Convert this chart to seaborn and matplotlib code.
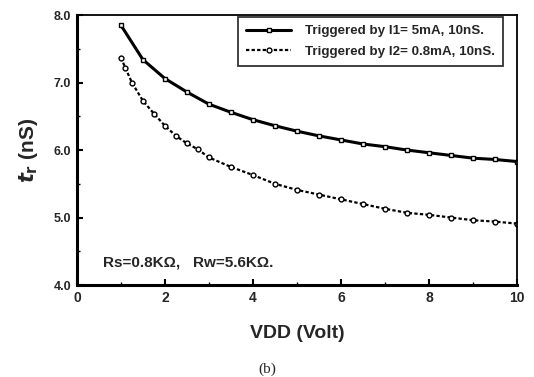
import matplotlib
matplotlib.use("Agg")
import matplotlib.pyplot as plt
import seaborn as sns
import pandas as pd

x1 = [1, 1.5, 2, 2.5, 3, 3.5, 4, 4.5, 5, 5.5, 6, 6.5, 7, 7.5, 8, 8.5, 9, 9.5, 10]
y1 = [7.85, 7.34, 7.06, 6.86, 6.68, 6.56, 6.45, 6.36, 6.28, 6.21, 6.15, 6.09, 6.05, 6.00, 5.96, 5.92, 5.88, 5.86, 5.83]
x2 = [1, 1.1, 1.25, 1.5, 1.75, 2, 2.25, 2.5, 2.75, 3, 3.5, 4, 4.5, 5, 5.5, 6, 6.5, 7, 7.5, 8, 8.5, 9, 9.5, 10]
y2 = [7.37, 7.22, 7.00, 6.73, 6.54, 6.36, 6.21, 6.10, 6.01, 5.89, 5.75, 5.63, 5.50, 5.41, 5.34, 5.27, 5.20, 5.13, 5.07, 5.04, 5.00, 4.96, 4.94, 4.91]
label1 = "Triggered by I1= 5mA, 10nS."
label2 = "Triggered by I2= 0.8mA, 10nS."
xticks = [0, 2, 4, 6, 8, 10]
yticks = [4.0, 5.0, 6.0, 7.0, 8.0]

sns.set_theme(style="white")
plt.rcParams['font.family'] = ['Liberation Sans', 'DejaVu Sans']
plt.rcParams['font.weight'] = 'bold'

fig = plt.figure(figsize=(5.34, 3.77), dpi=100)
ax = fig.add_axes([0.144, 0.244, 0.824, 0.716])

df1 = pd.DataFrame({"x": x1, "y": y1})
df2 = pd.DataFrame({"x": x2, "y": y2})
sns.lineplot(data=df1, x="x", y="y", ax=ax, color="black", lw=2.2,
             marker="s", markersize=3.5, markerfacecolor="white",
             markeredgecolor="black", markeredgewidth=1, label=label1)
sns.lineplot(data=df2, x="x", y="y", ax=ax, color="black", lw=1.6,
             linestyle=(0, (1.5, 1)), marker="o", markersize=3.5,
             markerfacecolor="white", markeredgecolor="black",
             markeredgewidth=1, label=label2)

ax.set_xlim(0, 10)
ax.set_ylim(4.0, 8.0)
ax.set_xticks(xticks)
ax.set_xticklabels([str(t) for t in xticks], fontsize=10, fontweight='bold')
ax.set_yticks(yticks)
ax.set_yticklabels([f"{t:.1f}" for t in yticks], fontsize=9, fontweight='bold')
ax.set_xticks([1, 3, 5, 7, 9], minor=True)
ax.set_yticks([4.5, 5.5, 6.5, 7.5], minor=True)
ax.tick_params(which='major', direction='in', length=4, width=1.5, color='black', pad=4, bottom=True, left=True)
ax.tick_params(which='minor', direction='in', length=2, width=1, color='black', bottom=True, left=True)

for s in ['left', 'bottom']:
    ax.spines[s].set_linewidth(2.2)
for s in ['top', 'right']:
    ax.spines[s].set_linewidth(1.3)
for s in ax.spines.values():
    s.set_color('black')

ax.set_xlabel("VDD (Volt)", fontsize=14, fontweight='bold', labelpad=15)
ax.set_ylabel(r"$\mathit{t}_{\mathbf{r}}$ (nS)", fontsize=15, fontweight='bold', labelpad=10)

ax.text(0.6, 4.34, "Rs=0.8K\u03a9,   Rw=5.6K\u03a9.", fontsize=11, fontweight='bold', va='center')

leg = ax.legend(loc='upper right', bbox_to_anchor=(0.972, 1.0), frameon=True,
                fancybox=False, edgecolor='black', fontsize=9.6, handlelength=3.4,
                borderpad=0.6, labelspacing=0.6, handletextpad=1.0, borderaxespad=0.15)
leg.get_frame().set_linewidth(1.3)
for t in leg.get_texts():
    t.set_fontweight('bold')

fig.text(0.5, 0.01, "(b)", fontsize=11, family='Liberation Serif', fontweight='normal', ha='center')

fig.savefig("out.png", dpi=100, facecolor='white')
